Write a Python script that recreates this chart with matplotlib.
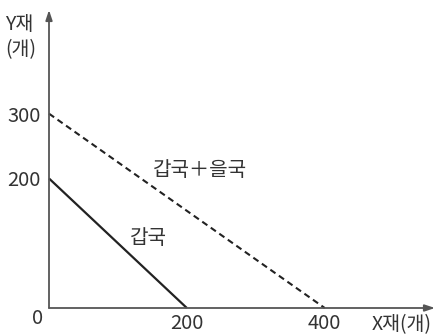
import matplotlib.pyplot as plt

plt.rcParams['font.family'] = ['Noto Sans CJK KR', 'DejaVu Sans']

# 갑국 and 갑국+을국 production possibility lines
gap_x = [0, 200]
gap_y = [200, 0]
sum_x = [0, 400]
sum_y = [300, 0]
xticks = [200, 400]
yticks = [200, 300]

fig = plt.figure(figsize=(4.4, 3.35), dpi=100)
ax = fig.add_axes([49/440, 27/335, 386/440, 298/335])
ax.set_xlim(0, 560)
ax.set_ylim(0, 460)
for s in ax.spines.values():
    s.set_visible(False)

txt = '#333333'
axc = '#555555'
ax.annotate('', xy=(560, 0), xytext=(0, 0), annotation_clip=False,
            arrowprops=dict(arrowstyle='-|>,head_length=0.6,head_width=0.2', color=axc, lw=1.3, shrinkA=0, shrinkB=0))
ax.annotate('', xy=(0, 460), xytext=(0, 0), annotation_clip=False,
            arrowprops=dict(arrowstyle='-|>,head_length=0.6,head_width=0.2', color=axc, lw=1.3, shrinkA=0, shrinkB=0))

ax.plot(gap_x, gap_y, color='#222222', lw=1.6, solid_capstyle='butt', clip_on=False)
ax.plot(sum_x, sum_y, color='#222222', lw=1.5, linestyle=(0, (3, 2)), clip_on=False)

ax.set_xticks(xticks)
ax.set_xticklabels([str(v) for v in xticks])
ax.set_yticks(yticks)
ax.set_yticklabels([str(v) for v in yticks])
ax.tick_params(length=0, labelsize=14.5, labelcolor=txt)
ax.tick_params(axis='x', pad=3.5)
ax.tick_params(axis='y', pad=6)

ax.text(-17, -16, '0', ha='center', va='center', fontsize=14.5, color=txt)
ax.text(512, -26, 'X재(개)', ha='center', va='center', fontsize=14, color=txt)
ax.text(-64, 418, 'Y재\n(개)', ha='left', va='center', fontsize=14, color=txt, linespacing=1.25)
ax.text(219, 213, '갑국＋을국', ha='center', va='center', fontsize=14.5, color=txt)
ax.text(144, 108, '갑국', ha='center', va='center', fontsize=14.5, color=txt)

fig.savefig('out.png', dpi=100)
